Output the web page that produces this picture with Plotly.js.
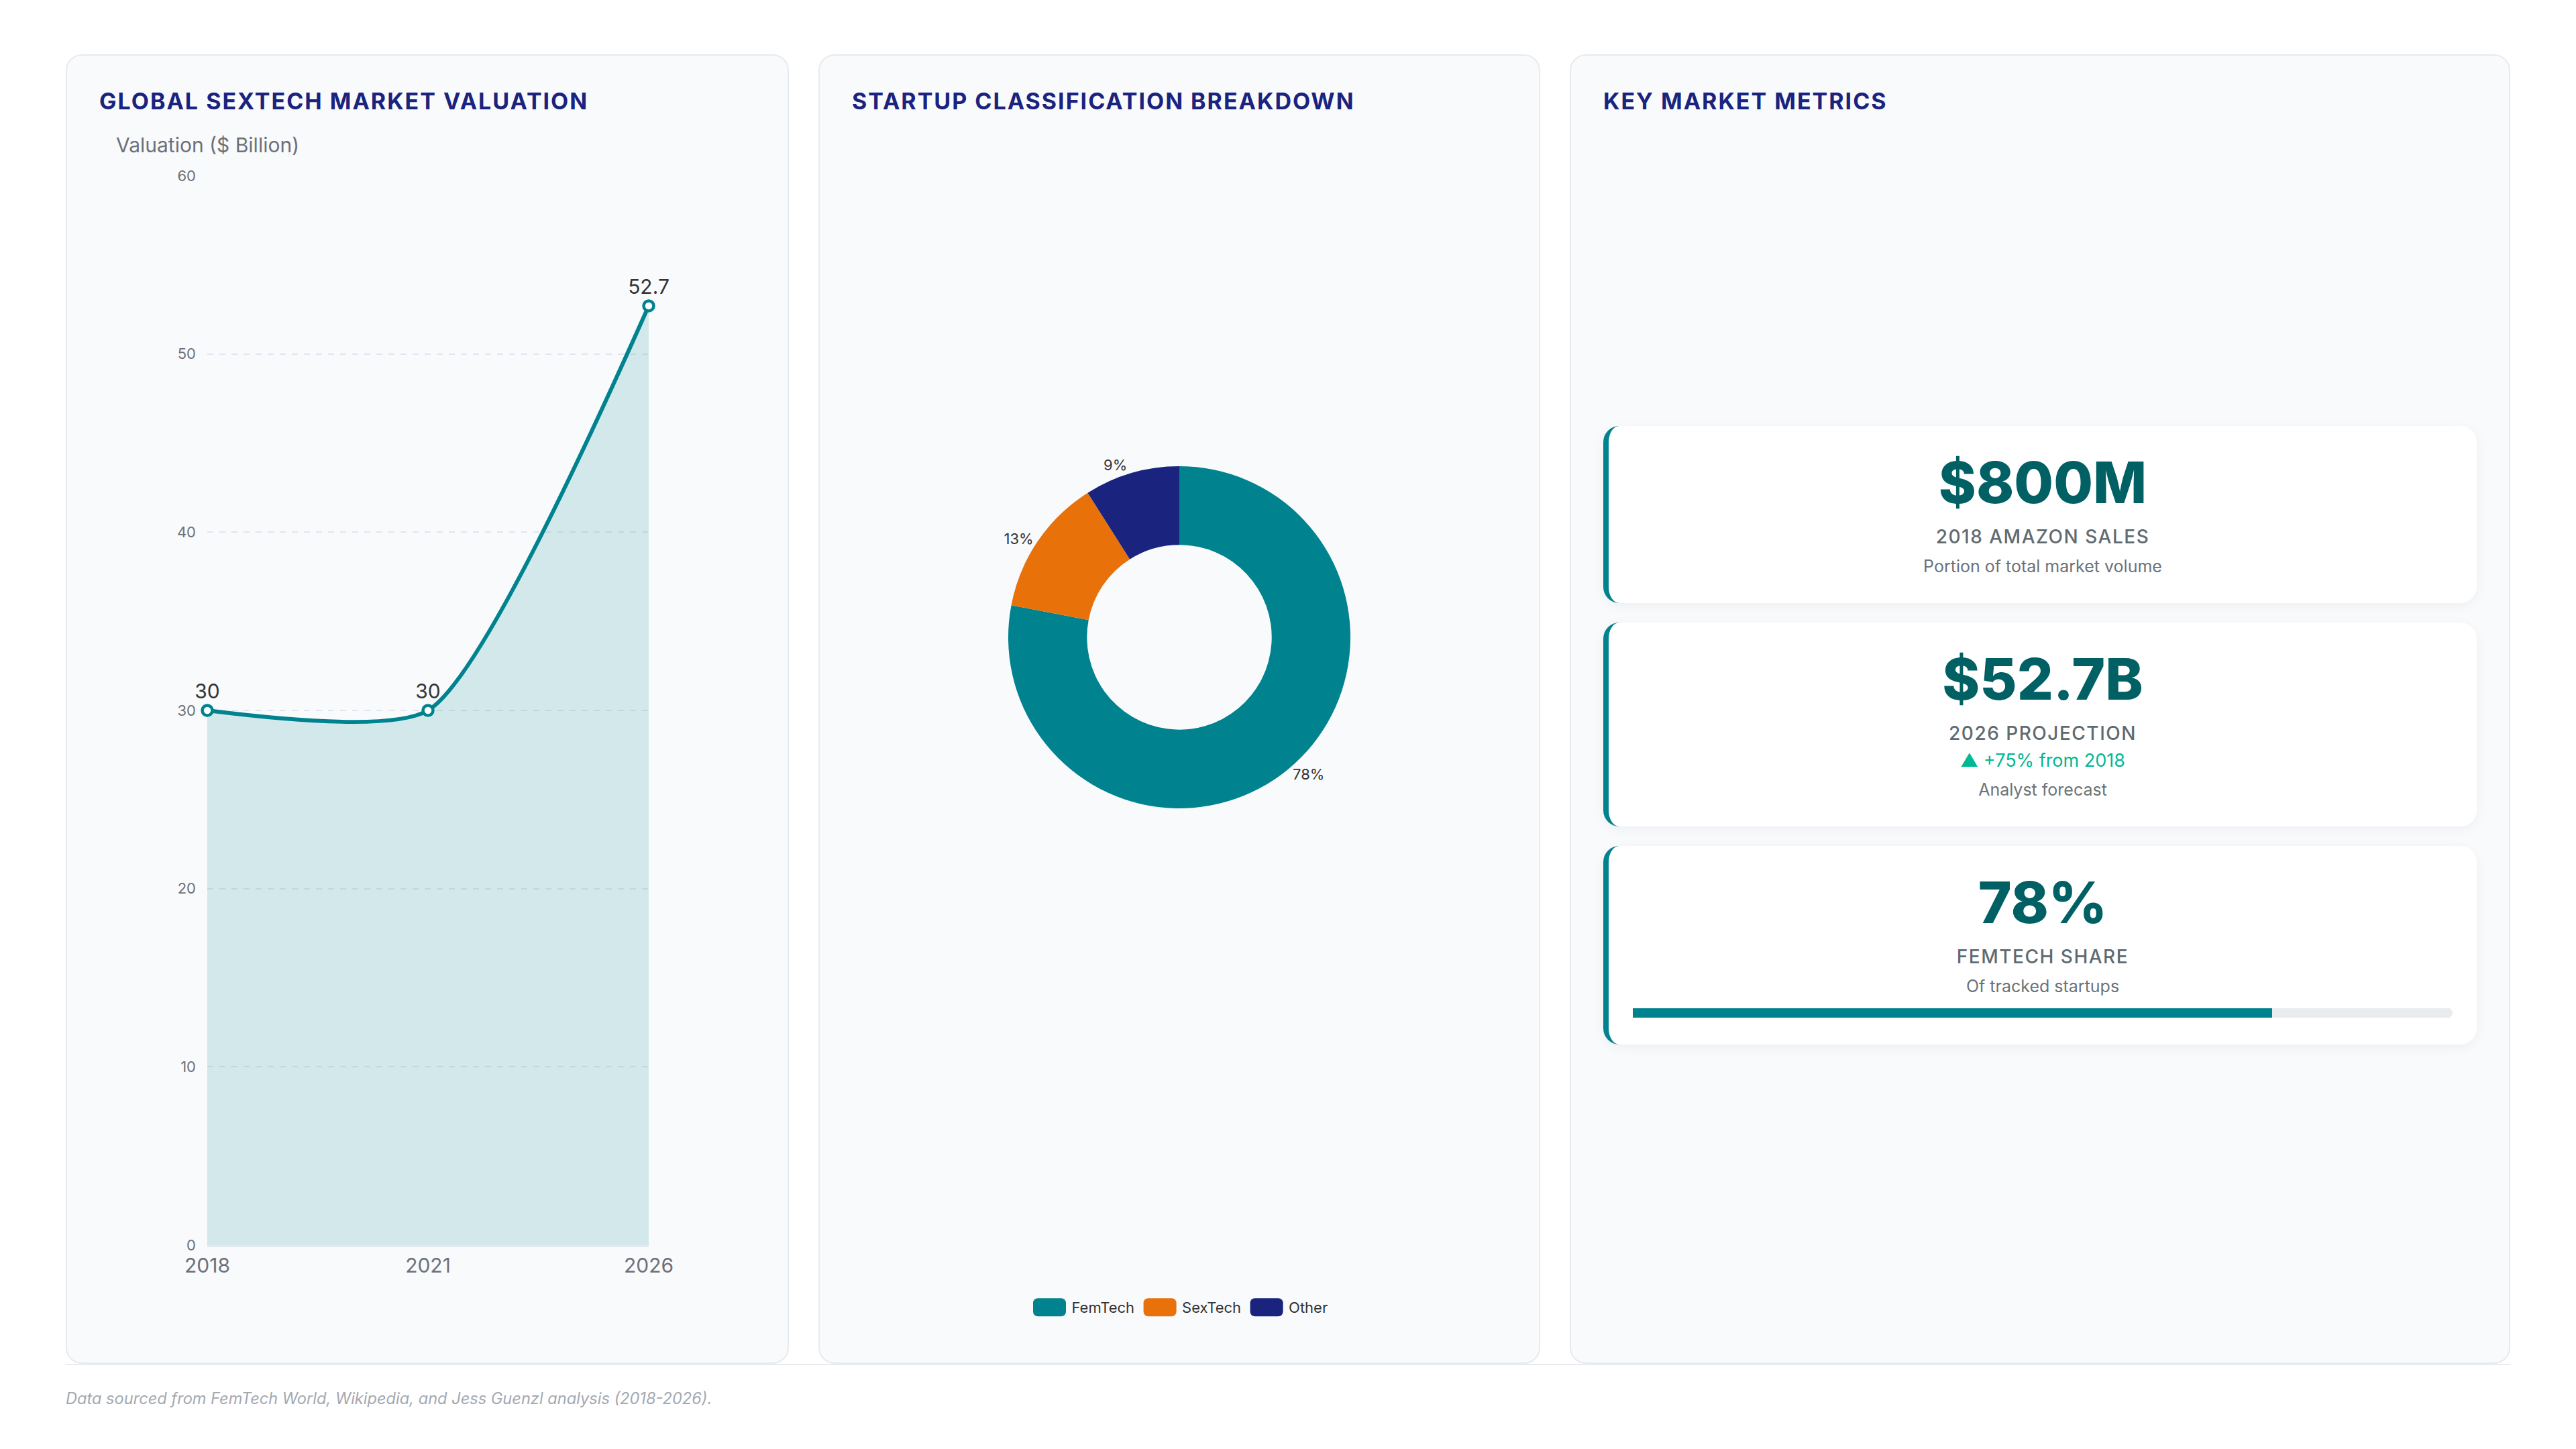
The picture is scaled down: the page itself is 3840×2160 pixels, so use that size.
<!DOCTYPE html>
<html>
<head>
<meta charset="utf-8">
<script src="https://cdn.plot.ly/plotly-3.0.1.min.js"></script>
<style>
html, body { margin: 0; padding: 0; background: #ffffff; }
body { width: 3840px; height: 2160px; position: relative; font-family: Inter, "Noto Sans", sans-serif; }
.wrap { position: absolute; left: 98px; top: 81px; width: 3644px; }
.grid { display: grid; grid-template-columns: 1078px 1076px 1402px; column-gap: 44px; height: 1952px; }
.panel { box-sizing: border-box; background: #f8fafc; border: 2px solid #e7eaee; border-radius: 24px; padding: 48px; display: flex; flex-direction: column; }
.ptitle { font-size: 34px; font-weight: 700; color: #1a237e; letter-spacing: 2px; line-height: 40px; height: 40px; margin-bottom: 19px; white-space: nowrap; }
.chart { width: 976px; height: 1793px; }
.metrics { flex: 1; display: flex; flex-direction: column; justify-content: center; gap: 29px; padding-top: 18px; }
.card { background: #ffffff; border-left: 8px solid #00838f; border-radius: 24px; padding: 41px 36px 40px; text-align: center; box-shadow: 0 4px 18px rgba(15, 23, 42, 0.05); }
.val { font-size: 85px; font-weight: 800; color: #006064; line-height: 88px; }
.lab { font-size: 28px; font-weight: 500; color: #5f6b70; letter-spacing: 1.5px; line-height: 36px; margin-top: 18px; }
.delta { font-size: 27px; color: #00b894; line-height: 34px; margin-top: 6px; }
.sub { font-size: 25px; color: #6b7378; line-height: 30px; margin-top: 11px; }
.bar { width: 1222px; height: 14px; margin-top: 18px; }
.footer { border-top: 2px solid #e7eaee; padding-top: 36px; font-size: 23.6px; line-height: 28px; font-style: italic; color: #a3a9b1; }
</style>
</head>
<body>
<div class="wrap">
  <div class="grid">
    <div class="panel">
      <div class="ptitle">GLOBAL SEXTECH MARKET VALUATION</div>
      <div id="lineChart" class="chart"></div>
    </div>
    <div class="panel">
      <div class="ptitle">STARTUP CLASSIFICATION BREAKDOWN</div>
      <div id="donut" class="chart"></div>
    </div>
    <div class="panel">
      <div class="ptitle">KEY MARKET METRICS</div>
      <div id="metrics" class="metrics"></div>
    </div>
  </div>
  <div class="footer">Data sourced from FemTech World, Wikipedia, and Jess Guenzl analysis (2018-2026).</div>
</div>
<script>
// data
const years = ['2018', '2021', '2026'];
const valuation = [30, 30, 52.7];

const segments = ['FemTech', 'SexTech', 'Other'];
const segmentShare = [78, 13, 9];

const metricValues = ['$800M', '$52.7B', '78%'];
const metricLabels = ['2018 AMAZON SALES', '2026 PROJECTION', 'FEMTECH SHARE'];
const metricDeltas = ['', '▲ +75% from 2018', ''];
const metricNotes = ['Portion of total market volume', 'Analyst forecast', 'Of tracked startups'];
const femtechShare = 78;
const shareMax = 100;

// styles
const teal = '#00838f';
const sliceColors = ['#00838f', '#e8710a', '#1a237e'];
const axisGrey = '#6e7079';
const fontFam = 'Inter, "Noto Sans", sans-serif';
const config = {displayModeBar: false, staticPlot: true};

// line chart
Plotly.newPlot('lineChart', [{
    x: years,
    y: valuation,
    type: 'scatter',
    mode: 'lines+markers+text',
    line: {color: teal, width: 6, shape: 'spline', smoothing: 0.6},
    marker: {size: 15, color: '#ffffff', line: {color: teal, width: 4.5}},
    fill: 'tozeroy',
    fillcolor: 'rgba(0,131,143,0.15)',
    text: valuation.map(v => String(v)),
    textposition: 'top center',
    textfont: {size: 30, color: '#333333', family: fontFam},
    cliponaxis: false,
    hoverinfo: 'skip'
}], {
    width: 976, height: 1793,
    margin: {l: 161, r: 157, t: 72, b: 127},
    paper_bgcolor: 'rgba(0,0,0,0)',
    plot_bgcolor: 'rgba(0,0,0,0)',
    font: {family: fontFam, color: axisGrey},
    showlegend: false,
    xaxis: {
        type: 'category', range: [0, 2], showgrid: false, zeroline: false,
        showline: true, linecolor: '#e3e8ee', linewidth: 3, ticks: '',
        tickfont: {size: 30, color: axisGrey}, ticklabelstandoff: 2
    },
    yaxis: {
        range: [0, 60], tick0: 0, dtick: 10, zeroline: false,
        gridcolor: '#e0e6f1', griddash: 'dash', gridwidth: 2, ticks: '',
        tickfont: {size: 22, color: axisGrey}, ticklabelstandoff: 16
    },
    annotations: [{
        text: 'Valuation ($ Billion)', xref: 'paper', yref: 'paper',
        x: -0.21, y: 1, xanchor: 'left', yanchor: 'middle', yshift: 46,
        showarrow: false, font: {size: 30, color: axisGrey}
    }]
}, config);

// donut
Plotly.newPlot('donut', [{
    type: 'pie',
    labels: segments,
    values: segmentShare,
    hole: 0.54,
    sort: false,
    direction: 'clockwise',
    rotation: 0,
    marker: {colors: sliceColors, line: {width: 0}},
    textinfo: 'percent',
    textposition: 'outside',
    textfont: {size: 22, color: '#333333', family: fontFam},
    domain: {x: [0.2387, 0.7613], y: [0.4339, 0.7184]},
    hoverinfo: 'skip'
}], {
    width: 976, height: 1793,
    margin: {l: 0, r: 0, t: 0, b: 0},
    paper_bgcolor: 'rgba(0,0,0,0)',
    font: {family: fontFam, color: '#333333'},
    showlegend: true,
    legend: {
        orientation: 'h', x: 0.5, xanchor: 'center', y: 0.019, yanchor: 'middle',
        font: {size: 22, color: '#333333'}, itemwidth: 56, traceorder: 'normal'
    }
}, config).then(() => {
    // wider rounded swatches in the legend
    const w = 49, h = 27, r = 7;
    const d = `M${-w/2+r},${-h/2}H${w/2-r}A${r},${r} 0 0 1 ${w/2},${-h/2+r}V${h/2-r}A${r},${r} 0 0 1 ${w/2-r},${h/2}H${-w/2+r}A${r},${r} 0 0 1 ${-w/2},${h/2-r}V${-h/2+r}A${r},${r} 0 0 1 ${-w/2+r},${-h/2}Z`;
    document.querySelectorAll('#donut .legendpoints path').forEach(p => p.setAttribute('d', d));
});

// metric cards
const box = document.getElementById('metrics');
metricValues.forEach((v, i) => {
    const card = document.createElement('div');
    card.className = 'card';
    let html = `<div class="val">${v}</div><div class="lab">${metricLabels[i]}</div>`;
    if (metricDeltas[i]) html += `<div class="delta">${metricDeltas[i]}</div>`;
    html += `<div class="sub">${metricNotes[i]}</div>`;
    if (i === 2) html += '<div id="shareBar" class="bar"></div>';
    card.innerHTML = html;
    box.appendChild(card);
});

// progress bar for the femtech share
Plotly.newPlot('shareBar', [
    {type: 'bar', orientation: 'h', x: [shareMax], y: ['share'], marker: {color: '#e8ecef', cornerradius: 7}, hoverinfo: 'skip'},
    {type: 'bar', orientation: 'h', x: [femtechShare], y: ['share'], marker: {color: teal, cornerradius: 7}, hoverinfo: 'skip'}
], {
    barmode: 'overlay', bargap: 0,
    width: 1222, height: 14,
    margin: {l: 0, r: 0, t: 0, b: 0, pad: 0},
    xaxis: {range: [0, shareMax], visible: false},
    yaxis: {visible: false},
    showlegend: false,
    paper_bgcolor: 'rgba(0,0,0,0)',
    plot_bgcolor: 'rgba(0,0,0,0)'
}, config);
</script>
</body>
</html>
